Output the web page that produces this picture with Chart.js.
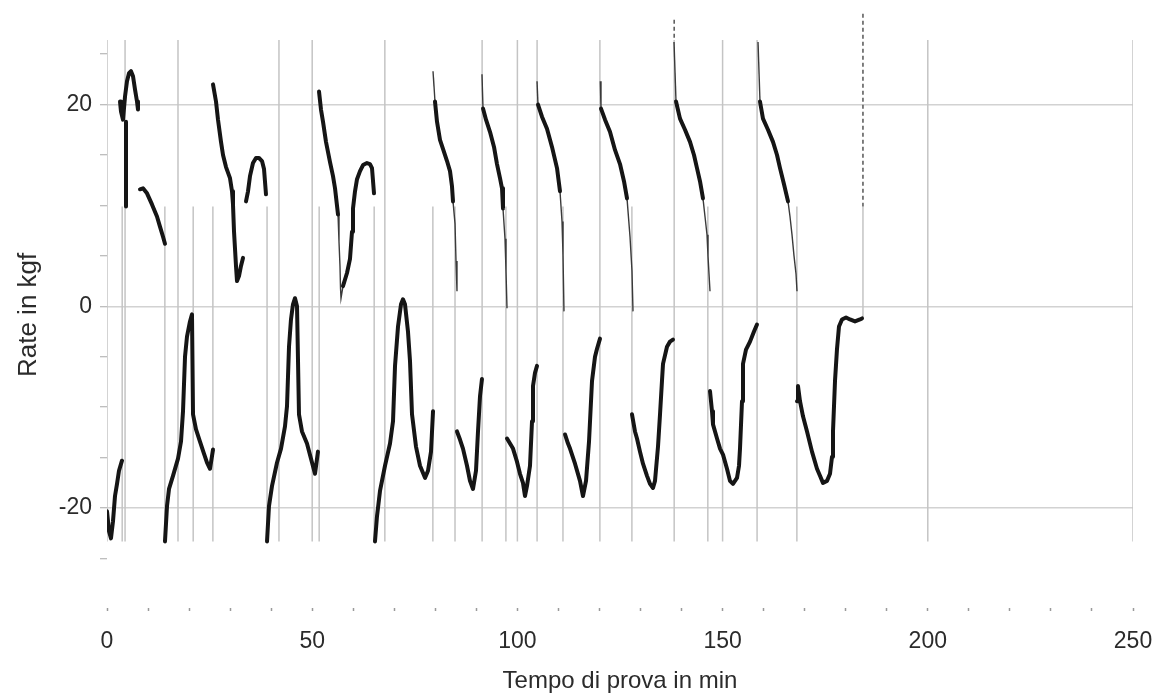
<!DOCTYPE html>
<html><head><meta charset="utf-8">
<script src="https://cdn.jsdelivr.net/npm/chart.js@4.4.1/dist/chart.umd.min.js"></script>
<style>html,body{margin:0;padding:0;background:#fff}canvas{display:block}</style>
</head><body>
<canvas id="c" width="1163" height="697"></canvas>
<script>
// ---- axis ticks ----
const xTickMarks = [0,10,20,30,40,50,60,70,80,90,100,110,120,130,140,150,160,170,180,190,200,210,220,230,240,250];
const xTickLabels = [0,50,100,150,200,250];
const yTickMarks = [25,20,15,10,5,0,-5,-10,-15,-20,-25];
const yTickLabels = [20,0,-20];

// ---- vertical recorder lines (time in min, top/bottom in kgf) ----
const vlTimes   = [0,4.4,17.3,41.9,50,67.7,91.4,100,104.8,120.1,138.2,150,158.4,200,250,
                   3.7,14.1,21.0,25.8,39.0,51.7,65.1,79.4,84.8,97.2,111.1,127.9,146.4,168.1,184.2];
const vlTops    = [26.4,26.4,26.4,26.4,26.4,26.4,26.4,26.4,26.4,26.4,26.4,26.4,26.4,26.4,26.4,
                   9.9,9.9,9.9,9.9,9.9,9.9,9.9,9.9,9.9,9.9,9.9,9.9,9.9,9.9,9.9];
const vlBottoms = [-23.3,-23.3,-23.3,-23.3,-23.3,-23.3,-23.3,-23.3,-23.3,-23.3,-23.3,-23.3,-23.3,-23.3,-23.3,
                   -23.3,-23.3,-23.3,-23.3,-23.3,-23.3,-23.3,-23.3,-23.3,-23.3,-23.3,-23.3,-23.3,-23.3,-1.2];
const dashTimes   = [138.2, 184.2];
const dashTops    = [28.4, 29.0];
const dashBottoms = [26.4, 9.9];

// ---- recorded trace (time in min, rate in kgf) ----
const c1StartT = [0,0.49,0.97,1.46,1.95,2.44,2.92,3.65];
const c1StartV = [-20.3,-22.3,-23.0,-21.3,-18.8,-17.6,-16.3,-15.3];
const c1TopT = [3.17,3.41,3.90,4.39,4.87,5.36,5.85,6.34,6.82,7.31,7.55];
const c1TopV = [20.3,19.3,18.5,20.8,22.3,23.1,23.3,22.8,21.5,20.3,19.5];
const c1DropT = [4.63,4.63];
const c1DropV = [18.3,9.9];
const c1MidT = [8.04,8.77,9.75,10.96,12.18,12.91,13.65,14.13];
const c1MidV = [11.6,11.7,11.2,10.1,8.9,7.9,6.9,6.2];
const c1LowT = [14.13,14.62,15.11,16.08,17.30,18.03,18.52,19.01,19.49,20.22,20.71,20.96,21.69,22.66,23.63,24.37,25.10,25.83];
const c1LowV = [-23.3,-19.8,-18.1,-16.8,-15.1,-13.4,-10.4,-5.0,-3.0,-1.5,-0.8,-10.7,-12.2,-13.4,-14.6,-15.5,-16.1,-14.2];

const c2TopT = [25.83,26.56,27.05,27.78,28.27,29.00,29.97,30.46,30.70,30.95,31.43,31.68,32.16,32.65,33.14];
const c2TopV = [22.0,20.3,18.5,16.3,15.0,13.8,12.7,11.4,10.1,7.4,4.0,2.5,3.0,4.0,4.8];
const c2ArcT = [33.87,34.36,34.84,35.57,36.30,37.04,37.77,38.26,38.74];
const c2ArcV = [10.4,11.4,12.9,14.2,14.7,14.7,14.4,13.6,11.1];
const c2LowT = [38.99,39.47,40.21,41.42,42.40,43.37,43.86,44.35,44.83,45.32,45.81,46.30,46.78,47.51,48.73,49.71,50.68,51.41];
const c2LowV = [-23.3,-19.8,-17.8,-15.5,-14.1,-11.9,-9.9,-4.0,-1.3,0.2,0.8,0.0,-10.7,-12.4,-13.6,-15.1,-16.6,-14.4];

const c3TopT = [51.66,52.14,52.63,53.36,54.34,55.07,55.56,56.29];
const c3TopV = [21.3,19.5,18.3,16.3,14.3,12.9,11.7,9.1];
const c3DipT = [56.29,56.53,56.77,56.90,57.02,57.50];
const c3DipV = [9.1,6.4,4.0,1.8,0.8,2.0];
const c3ArcT = [57.50,58.48,59.21,59.70,59.94,60.43,60.92,61.65,62.38,63.35,64.08,64.57,65.06];
const c3ArcV = [2.0,3.3,4.7,7.4,9.7,11.4,12.6,13.4,14.0,14.2,14.1,13.7,11.2];
const c3LowT = [65.30,65.79,66.52,67.74,68.96,69.69,70.18,70.91,71.64,72.12,72.61,73.34,73.83,74.32,75.29,76.27,77.49,78.22,78.95,79.44];
const c3LowV = [-23.3,-20.8,-18.3,-15.8,-13.6,-11.4,-5.9,-2.0,0.2,0.7,0.2,-2.5,-5.4,-10.7,-13.9,-15.8,-17.0,-16.3,-14.4,-10.4];

const c4SpikeT = [79.44,79.92];
const c4SpikeV = [23.3,20.3];
const c4TopT = [79.92,80.41,81.14,81.87,82.85,83.58,84.06,84.31];
const c4TopV = [20.3,18.3,16.5,15.6,14.4,13.4,11.9,10.4];
const c4FallT = [84.31,84.80,85.04,85.28];
const c4FallV = [10.4,8.2,4.5,1.5];
const c4LowT = [85.28,86.01,86.74,87.72,88.45,89.18,89.91,90.40,90.89,91.37];
const c4LowV = [-12.4,-13.2,-14.1,-15.8,-17.3,-18.1,-16.3,-12.4,-8.9,-7.2];

const c5SpikeT = [91.37,91.62];
const c5SpikeV = [23.0,19.6];
const c5TopT = [91.62,92.35,93.32,94.30,95.03,95.76,96.25,96.49];
const c5TopV = [19.6,18.5,17.3,15.8,14.1,12.7,11.7,9.7];
const c5FallT = [96.49,96.98,97.22,97.47];
const c5FallV = [9.7,6.7,3.5,-0.2];
const c5LowT = [97.47,98.20,98.93,99.90,100.63,101.36,101.85,102.34,103.07,103.56,103.80,104.29,104.78];
const c5LowV = [-13.1,-13.6,-14.1,-15.4,-16.6,-17.5,-18.8,-17.8,-15.8,-11.4,-7.9,-6.6,-5.9];

const c6SpikeT = [104.78,105.02];
const c6SpikeV = [22.3,20.0];
const c6TopT = [105.02,105.99,107.21,108.43,109.65,110.38];
const c6TopV = [20.0,18.8,17.6,15.8,13.7,11.4];
const c6FallT = [110.38,110.87,111.11,111.35];
const c6FallV = [11.4,8.4,5.1,-0.5];
const c6LowT = [111.60,112.33,112.82,114.04,115.25,115.98,116.72,117.45,118.18,118.91,119.40,120.13];
const c6LowV = [-12.7,-13.6,-14.1,-15.6,-17.3,-18.8,-17.3,-13.4,-7.4,-5.0,-4.2,-3.2];

const c7SpikeT = [120.2,120.37];
const c7SpikeV = [22.3,19.6];
const c7TopT = [120.37,121.35,122.56,123.78,125.0,125.97,126.71];
const c7TopV = [19.6,18.5,17.3,15.5,14.1,12.4,10.7];
const c7FallT = [126.71,127.44,127.92,128.17];
const c7FallV = [10.7,6.9,3.5,-0.5];
const c7LowT = [127.92,128.65,129.14,129.87,130.60,131.58,132.31,133.04,133.53,134.26,134.75,135.23,135.48,136.45,137.18,137.91];
const c7LowV = [-10.7,-12.4,-13.1,-14.4,-15.6,-16.8,-17.6,-18.0,-17.3,-13.9,-10.7,-7.4,-5.7,-4.0,-3.5,-3.3];

const c8SpikeT = [138.16,138.65];
const c8SpikeV = [26.2,20.3];
const c8TopT = [138.65,139.62,140.84,142.06,143.03,143.76,144.49,145.22];
const c8TopV = [20.3,18.6,17.5,16.3,15.0,13.7,12.4,10.7];
const c8FallT = [145.22,145.71,146.20,146.44,146.69,146.93];
const c8FallV = [10.7,8.9,7.1,5.0,3.2,1.5];
const c8LowT = [146.93,147.42,147.66,148.64,149.37,150.10,151.07,151.80,152.53,153.51,154.0,154.24,154.73,154.97,155.70,156.68,157.65,158.38];
const c8LowV = [-8.4,-10.4,-11.7,-13.1,-14.1,-14.7,-16.1,-17.3,-17.6,-17.0,-15.8,-14.1,-9.4,-5.7,-4.3,-3.5,-2.5,-1.8];

const c9SpikeT = [158.63,159.11];
const c9SpikeV = [26.2,20.3];
const c9TopT = [159.11,159.84,161.06,162.28,163.26,163.99,164.96,165.94];
const c9TopV = [20.3,18.6,17.5,16.3,15.0,13.7,12.1,10.4];
const c9FallT = [165.94,166.42,166.91,167.40,167.89,168.13];
const c9FallV = [10.4,8.9,7.1,5.0,3.2,1.5];
const c9LowT = [168.13,168.37,168.86,169.59,170.57,171.78,173.0,173.73,174.46,175.44,176.17,176.66,176.90,177.39,177.88,178.36,179.09,180.07,181.04,182.26,183.48,183.97];
const c9LowV = [-9.4,-7.9,-9.4,-10.9,-12.4,-14.4,-16.1,-16.8,-17.5,-17.3,-16.6,-14.9,-12.4,-7.4,-4.2,-2.0,-1.3,-1.1,-1.3,-1.5,-1.3,-1.2];

const thickSegs = [
  [c1StartT,c1StartV],[c1TopT,c1TopV],[c1DropT,c1DropV],[c1MidT,c1MidV],[c1LowT,c1LowV],
  [c2TopT,c2TopV],[c2ArcT,c2ArcV],[c2LowT,c2LowV],
  [c3TopT,c3TopV],[c3ArcT,c3ArcV],[c3LowT,c3LowV],
  [c4TopT,c4TopV],[c4LowT,c4LowV],
  [c5TopT,c5TopV],[c5LowT,c5LowV],
  [c6TopT,c6TopV],[c6LowT,c6LowV],
  [c7TopT,c7TopV],[c7LowT,c7LowV],
  [c8TopT,c8TopV],[c8LowT,c8LowV],
  [c9TopT,c9TopV],[c9LowT,c9LowV]
];
const thinSegs = [
  [c3DipT,c3DipV],
  [c4SpikeT,c4SpikeV],[c4FallT,c4FallV],
  [c5SpikeT,c5SpikeV],[c5FallT,c5FallV],
  [c6SpikeT,c6SpikeV],[c6FallT,c6FallV],
  [c7SpikeT,c7SpikeV],[c7FallT,c7FallV],
  [c8SpikeT,c8SpikeV],[c8FallT,c8FallV],
  [c9SpikeT,c9SpikeV],[c9FallT,c9FallV]
];

const FONT = "'Liberation Sans', Arial, sans-serif";
const datasets = [];
function pts(t, v) { return t.map((x, i) => ({x: x, y: v[i]})); }
thickSegs.forEach(s => datasets.push({data: pts(s[0], s[1]), showLine: true, borderColor: '#151515',
  borderWidth: 4, pointRadius: 0, borderJoinStyle: 'round', borderCapStyle: 'round', order: 0}));
thinSegs.forEach(s => datasets.push({data: pts(s[0], s[1]), showLine: true, borderColor: '#3a3a3a',
  borderWidth: 1.4, pointRadius: 0, order: 1}));
vlTimes.forEach((t, i) => datasets.push({data: [{x: t, y: vlTops[i]}, {x: t, y: vlBottoms[i]}], showLine: true,
  borderColor: '#c4c4c4', borderWidth: 1.5, pointRadius: 0, order: 3}));
dashTimes.forEach((t, i) => datasets.push({data: [{x: t, y: dashTops[i]}, {x: t, y: dashBottoms[i]}], showLine: true,
  borderColor: '#555', borderWidth: 1.5, borderDash: [4, 3], pointRadius: 0, order: 2, clip: false}));

const bg = {id: 'bg', beforeDraw(c) { const x = c.ctx; x.save(); x.fillStyle = '#fff'; x.fillRect(0, 0, c.width, c.height); x.restore(); }};

new Chart(document.getElementById('c'), {
  type: 'scatter',
  data: {datasets},
  plugins: [bg],
  options: {
    responsive: false, animation: false, devicePixelRatio: 1,
    layout: {padding: {left: 0, right: 30, top: 2, bottom: 0}},
    plugins: {legend: {display: false}, tooltip: {enabled: false}},
    scales: {
      x: {
        type: 'linear', min: 0, max: 250,
        afterFit(s) { s.height = 89; s.paddingLeft = 0; s.paddingRight = 0; },
        afterBuildTicks(s) { s.ticks = xTickMarks.map(v => ({value: v})); },
        ticks: {autoSkip: false, maxRotation: 0, padding: 17, color: '#2b2b2b',
          font: {family: FONT, size: 23},
          callback: v => xTickLabels.includes(v) ? String(v) : ''},
        grid: {drawOnChartArea: false, drawTicks: true, tickLength: 3, tickColor: '#9a9a9a', tickWidth: 1.5},
        border: {display: false},
        title: {display: true, text: 'Tempo di prova in min', color: '#2b2b2b',
          font: {family: FONT, size: 24}, padding: {top: 0, bottom: 1}}
      },
      y: {
        type: 'linear', min: -29.9, max: 28.2,
        afterFit(s) { s.width = 107; },
        afterBuildTicks(s) { s.ticks = yTickMarks.map(v => ({value: v})); },
        ticks: {padding: 8, color: '#2b2b2b', font: {family: FONT, size: 23},
          callback: v => yTickLabels.includes(v) ? String(v) : ''},
        grid: {color: ctx => (ctx.tick && yTickLabels.includes(ctx.tick.value)) ? '#d2d2d2' : 'rgba(0,0,0,0)',
          lineWidth: 1.5, drawTicks: true, tickLength: 7, tickColor: '#a8a8a8', tickWidth: 1},
        border: {display: false},
        title: {display: true, text: 'Rate in kgf', color: '#2b2b2b',
          font: {family: FONT, size: 26}, padding: {top: 13, bottom: 0}}
      }
    }
  }
});
</script>
</body></html>
